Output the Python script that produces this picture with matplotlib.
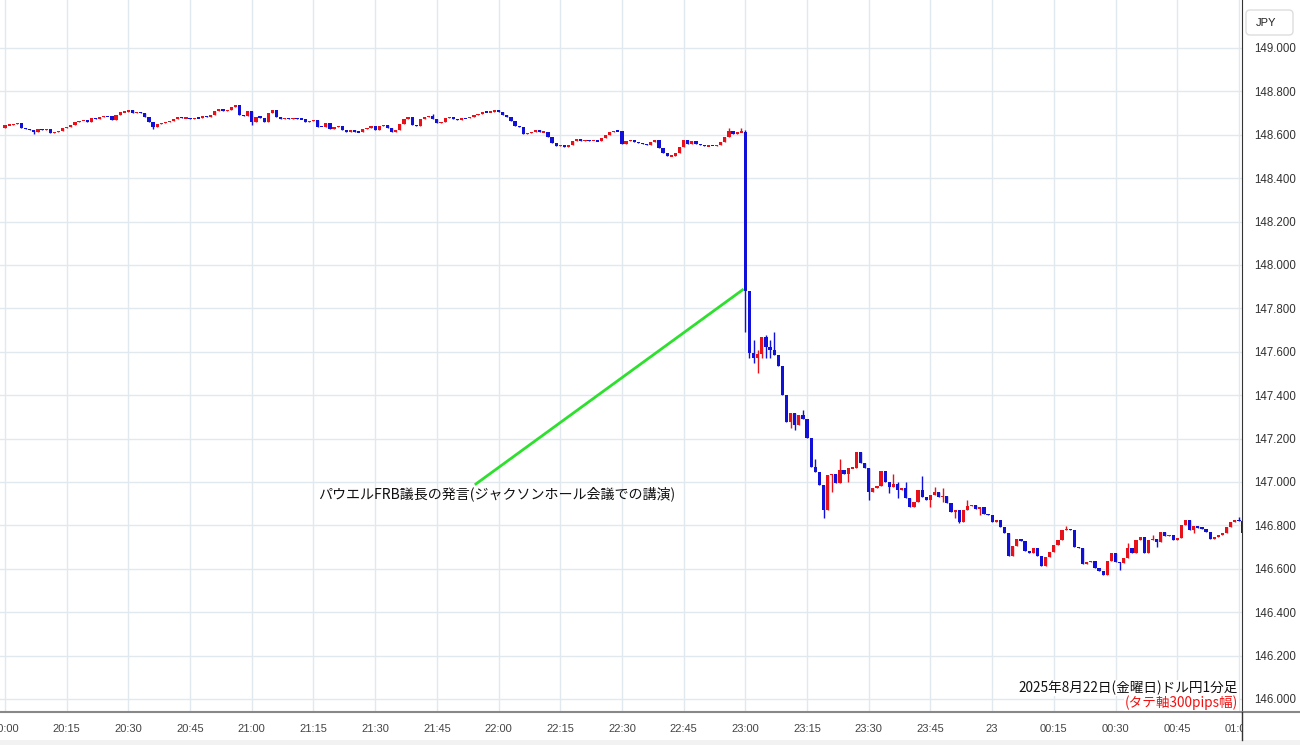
import numpy as np
import matplotlib.pyplot as plt
from matplotlib.patches import FancyBboxPatch, Rectangle
from matplotlib.lines import Line2D
from matplotlib.transforms import Bbox, TransformedBbox

plt.rcParams['font.family'] = ['Noto Sans CJK JP', 'DejaVu Sans']

# USD/JPY 1-minute candles, index 0 = 20:00 (2025-08-22), open = previous close
first_open = 148.632
closes = [
    148.645, 148.645, 148.648, 148.653, 148.630, 148.628, 148.622, 148.612, 148.627, 148.624,
    148.625, 148.610, 148.614, 148.617, 148.630, 148.637, 148.645, 148.658, 148.664, 148.665,
    148.661, 148.676, 148.673, 148.684, 148.686, 148.685, 148.668, 148.691, 148.704, 148.707,
    148.712, 148.699, 148.707, 148.699, 148.682, 148.661, 148.635, 148.648, 148.653, 148.658,
    148.664, 148.673, 148.682, 148.676, 148.679, 148.673, 148.679, 148.676, 148.686, 148.684,
    148.690, 148.710, 148.719, 148.710, 148.714, 148.730, 148.737, 148.691, 148.688, 148.710,
    148.661, 148.684, 148.679, 148.661, 148.699, 148.714, 148.684, 148.672, 148.676, 148.673,
    148.676, 148.673, 148.672, 148.658, 148.664, 148.668, 148.637, 148.636, 148.654, 148.625,
    148.637, 148.642, 148.624, 148.614, 148.620, 148.614, 148.612, 148.627, 148.630, 148.641,
    148.624, 148.642, 148.645, 148.633, 148.614, 148.622, 148.650, 148.673, 148.682, 148.645,
    148.641, 148.672, 148.684, 148.687, 148.672, 148.653, 148.658, 148.676, 148.680, 148.672,
    148.668, 148.676, 148.675, 148.683, 148.692, 148.694, 148.707, 148.703, 148.707, 148.714,
    148.703, 148.692, 148.684, 148.664, 148.641, 148.637, 148.604, 148.607, 148.613, 148.624,
    148.611, 148.614, 148.591, 148.564, 148.547, 148.555, 148.543, 148.552, 148.572, 148.582,
    148.570, 148.575, 148.572, 148.573, 148.569, 148.584, 148.599, 148.611, 148.618, 148.616,
    148.556, 148.571, 148.578, 148.565, 148.561, 148.556, 148.553, 148.568, 148.574, 148.541,
    148.518, 148.501, 148.504, 148.516, 148.542, 148.574, 148.559, 148.570, 148.558, 148.553,
    148.547, 148.550, 148.549, 148.552, 148.568, 148.590, 148.619, 148.602, 148.611, 148.614,
    147.882, 147.593, 147.570, 147.590, 147.670, 147.624, 147.608, 147.585, 147.535, 147.401,
    147.278, 147.317, 147.263, 147.309, 147.290, 147.201, 147.071, 147.048, 146.986, 146.871,
    147.032, 147.037, 146.994, 147.055, 147.037, 147.063, 147.065, 147.140, 147.086, 147.063,
    146.956, 146.971, 146.982, 147.052, 147.002, 146.979, 146.990, 146.963, 146.970, 146.925,
    146.886, 146.909, 146.963, 146.932, 146.917, 146.940, 146.956, 146.932, 146.937, 146.902,
    146.863, 146.870, 146.817, 146.870, 146.889, 146.893, 146.874, 146.883, 146.852, 146.848,
    146.817, 146.825, 146.794, 146.763, 146.659, 146.705, 146.735, 146.728, 146.684, 146.671,
    146.694, 146.659, 146.613, 146.653, 146.679, 146.710, 146.733, 146.779, 146.785, 146.779,
    146.702, 146.694, 146.622, 146.633, 146.635, 146.602, 146.591, 146.571, 146.636, 146.671,
    146.633, 146.625, 146.650, 146.697, 146.671, 146.732, 146.748, 146.671, 146.732, 146.735,
    146.724, 146.768, 146.752, 146.755, 146.732, 146.743, 146.802, 146.825, 146.779, 146.799,
    146.790, 146.785, 146.771, 146.737, 146.745, 146.755, 146.763, 146.794, 146.817, 146.825,
    146.822, 146.763,
]
# visible wicks beyond the bodies
highs = {104: 148.696, 176: 148.630, 179: 148.630, 180: 148.620, 182: 147.654,
         183: 147.608, 185: 147.677, 186: 147.654, 187: 147.693, 194: 147.330,
         197: 147.105, 203: 147.105, 216: 147.035, 217: 147.002, 219: 147.002,
         223: 147.028, 226: 146.976, 228: 146.970, 234: 146.917, 258: 146.795,
         273: 146.717, 279: 146.755, 300: 146.840}
lows = {7: 148.603, 36: 148.628, 60: 148.645, 180: 147.693, 181: 147.570,
        182: 147.547, 183: 147.501, 184: 147.573, 185: 147.573, 186: 147.573,
        191: 147.247, 192: 147.240, 199: 146.833, 201: 146.956, 205: 147.000,
        210: 146.917, 215: 146.948, 217: 146.925, 225: 146.886, 228: 146.909,
        231: 146.833, 232: 146.810, 237: 146.848, 271: 146.594, 280: 146.702,
        289: 146.763}

time_ticks = list(range(0, 301, 15))
time_labels = ['20:00', '20:15', '20:30', '20:45', '21:00', '21:15', '21:30', '21:45',
               '22:00', '22:15', '22:30', '22:45', '23:00', '23:15', '23:30', '23:45',
               '23', '00:15', '00:30', '00:45', '01:00']
price_ticks = [146.0, 146.2, 146.4, 146.6, 146.8, 147.0, 147.2, 147.4,
               147.6, 147.8, 148.0, 148.2, 148.4, 148.6, 148.8, 149.0]

note_x = [114.5, 179.3]
note_y = [146.991, 147.885]
note_text = 'パウエルFRB議長の発言(ジャクソンホール会議での講演)'
title_text = '2025年8月22日(金曜日)ドル円1分足'
sub_text = '(タテ軸300pips幅)'

fig = plt.figure(figsize=(13, 7.45), dpi=100)
ax = fig.add_axes([0, 33 / 745, 1242 / 1300, 712 / 745])

c = np.array(closes)
o = np.array([first_open] + closes[:-1])
x = np.arange(len(c))
up = c >= o
cols = np.where(up, '#e8111a', '#1010d8')
hi = np.maximum(o, c)
lo = np.minimum(o, c)
for k, v in highs.items():
    hi[k] = v
for k, v in lows.items():
    lo[k] = v

ax.vlines(x, lo, hi, colors=cols, lw=1, zorder=2)
h = np.abs(c - o)
mid = (c + o) / 2
h = np.maximum(h, 0.006)
ax.bar(x, h, bottom=mid - h / 2, width=0.78, color=cols, lw=0, zorder=3)

ax.plot(note_x, note_y, color='#2ee02e', lw=2, zorder=4)
ax.text(76, 146.945, note_text, fontsize=10.1, color='#111111', va='center', ha='left')

ax.text(1238 / 1242, 24 / 712, title_text, transform=ax.transAxes, fontsize=9.8,
        ha='right', va='center', color='#111111', zorder=5,
        bbox=dict(facecolor='white', edgecolor='none', pad=0.5))
ax.text(1238 / 1242, 9 / 712, sub_text, transform=ax.transAxes, fontsize=9.8,
        ha='right', va='center', color='#ee1111', zorder=5,
        bbox=dict(facecolor='white', edgecolor='none', pad=0.5))

ax.set_xlim(-1.22, 300.75)
ax.set_ylim(145.940, 149.221)
ax.set_xticks(time_ticks)
ax.set_xticklabels(time_labels)
ax.set_yticks(price_ticks)
ax.set_yticklabels(['%.3f' % p for p in price_ticks])
ax.yaxis.tick_right()
ax.tick_params(axis='y', length=0, pad=9, labelsize=8.3, labelcolor='#333333')
ax.tick_params(axis='x', length=0, pad=9, labelsize=8, labelcolor='#444444')
plt.setp(ax.get_xticklabels() + ax.get_yticklabels(), family='Liberation Sans')

clip = TransformedBbox(Bbox([[0, 0], [1242 / 1300, 1]]), fig.transFigure)
for lbl in ax.get_xticklabels():
    lbl.set_clip_box(clip)
    lbl.set_clip_on(True)

ax.grid(True, color='#e1e8ee', lw=1)
ax.set_axisbelow(True)
for s in ['left', 'top']:
    ax.spines[s].set_visible(False)
ax.spines['right'].set_color('#333333')
ax.spines['bottom'].set_color('#888888')
ax.spines['bottom'].set_linewidth(1.5)

# right panel extras
fig.add_artist(Line2D([1242 / 1300, 1], [33 / 745, 33 / 745], color='#888888', lw=1.5))
fig.add_artist(Line2D([1242 / 1300, 1242 / 1300], [5 / 745, 33 / 745], color='#333333', lw=1))
fig.add_artist(Rectangle((0, 0), 1, 5 / 745, transform=fig.transFigure,
                         facecolor='#f2f2f2', edgecolor='none'))
box = FancyBboxPatch((12.46, 7.10), 0.47, 0.25, boxstyle='round,pad=0,rounding_size=0.04',
                     transform=fig.dpi_scale_trans, facecolor='white', edgecolor='#dddddd', lw=1)
fig.add_artist(box)
fig.text(12.66 / 13, 7.225 / 7.45, 'JPY', fontsize=8, ha='center', va='center',
         family='Liberation Sans', color='#222222')

fig.savefig('out.png', dpi=100)
